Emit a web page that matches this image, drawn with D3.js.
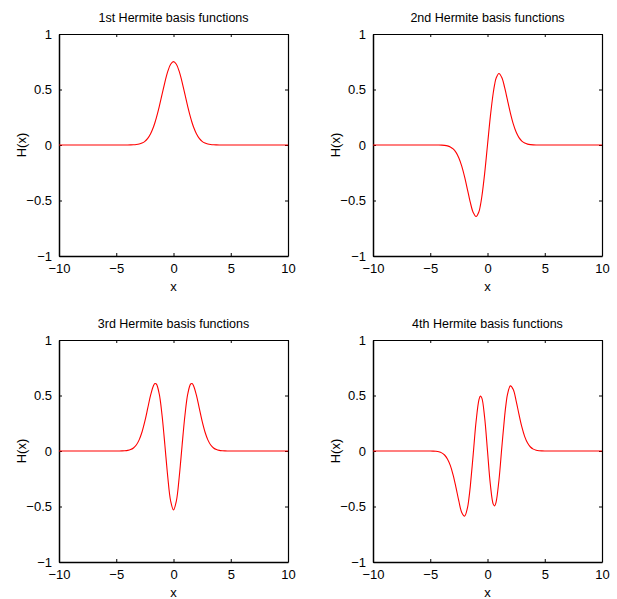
<!DOCTYPE html>
<html>
<head>
<meta charset="utf-8">
<script src="https://cdn.jsdelivr.net/npm/d3@7"></script>
<style>
  body { margin: 0; background: #fff; }
  svg text { font-family: "Liberation Sans", Arial, Helvetica, sans-serif; fill: #000; }
</style>
</head>
<body>
<div class="chart"></div>
<script>
// sample points along x (the curves are flat beyond |x| > 5)
var xs = [-10, -5, -4.75, -4.5, -4.25, -4, -3.75, -3.5, -3.25, -3, -2.75, -2.5, -2.25, -2, -1.75, -1.625, -1.5, -1.25, -1, -0.75, -0.625, -0.5, -0.25,
	0, 0.25, 0.5, 0.625, 0.75, 1, 1.25, 1.5, 1.625, 1.75, 2, 2.25, 2.5, 2.75, 3, 3.25, 3.5, 3.75, 4, 4.25, 4.5, 4.75, 5, 10];

var h1 = [0, 0.0000, 0.0000, 0.0000, 0.0001, 0.0003, 0.0007, 0.0016, 0.0038, 0.0083, 0.0171, 0.0330, 0.0598, 0.1017, 0.1624, 0.2006, 0.2439, 0.3439, 0.4556, 0.5670, 0.6179, 0.6629, 0.7280,
	0.7511, 0.7280, 0.6629, 0.6179, 0.5670, 0.4556, 0.3439, 0.2439, 0.2006, 0.1624, 0.1017, 0.0598, 0.0330, 0.0171, 0.0083, 0.0038, 0.0016, 0.0007, 0.0003, 0.0001, 0.0000, 0.0000, 0.0000, 0];

var h2 = [0, -0.0000, -0.0001, -0.0002, -0.0005, -0.0014, -0.0035, -0.0081, -0.0176, -0.0354, -0.0666, -0.1167, -0.1902, -0.2875, -0.4020, -0.4610, -0.5173, -0.6079, -0.6443, -0.6014, -0.5461, -0.4687, -0.2574,
	0, 0.2574, 0.4687, 0.5461, 0.6014, 0.6443, 0.6079, 0.5173, 0.4610, 0.4020, 0.2875, 0.1902, 0.1167, 0.0666, 0.0354, 0.0176, 0.0081, 0.0035, 0.0014, 0.0005, 0.0002, 0.0001, 0.0000, 0];

var h3 = [0, 0.0001, 0.0003, 0.0008, 0.0022, 0.0055, 0.0127, 0.0273, 0.0544, 0.1003, 0.1710, 0.2684, 0.3856, 0.5032, 0.5887, 0.6073, 0.6035, 0.5167, 0.3222, 0.0501, -0.0956, -0.2344, -0.4504,
	-0.5311, -0.4504, -0.2344, -0.0956, 0.0501, 0.3222, 0.5167, 0.6035, 0.6073, 0.5887, 0.5032, 0.3856, 0.2684, 0.1710, 0.1003, 0.0544, 0.0273, 0.0127, 0.0055, 0.0022, 0.0008, 0.0003, 0.0001, 0];

var h4 = [0, -0.0004, -0.0011, -0.0029, -0.0073, -0.0169, -0.0361, -0.0714, -0.1299, -0.2168, -0.3296, -0.4526, -0.5531, -0.5869, -0.5129, -0.4293, -0.3168, -0.0310, 0.2630, 0.4603, 0.4947, 0.4784, 0.3021,
	0, -0.3021, -0.4784, -0.4947, -0.4603, -0.2630, 0.0310, 0.3168, 0.4293, 0.5129, 0.5869, 0.5531, 0.4526, 0.3296, 0.2168, 0.1299, 0.0714, 0.0361, 0.0169, 0.0073, 0.0029, 0.0011, 0.0004, 0];

var titles = ['1st Hermite basis functions', '2nd Hermite basis functions', '3rd Hermite basis functions', '4th Hermite basis functions'];
var series = [h1, h2, h3, h4];
var xTicks = [-10, -5, 0, 5, 10];
var yTicks = [-1, -0.5, 0, 0.5, 1];

var W = 617, H = 599;
var pw = 229, ph = 222;
var lefts = [59, 373];
var tops = [34, 340];
var tickLen = 3;

var svg = d3.select('.chart').append('svg')
	.attr('width', W)
	.attr('height', H);

var fmt = function(d){ return (d < 0 ? '\u2212' : '') + Math.abs(d); };

/*---------------------------PANELS--------------------------*/

series.forEach(function(vals, k){
	var left = lefts[k % 2];
	var top = tops[Math.floor(k / 2)];

	var x = d3.scaleLinear().domain([-10, 10]).range([0, pw]);
	var y = d3.scaleLinear().domain([-1, 1]).range([ph, 0]);

	var g = svg.append('g')
		.attr('transform', 'translate(' + left + ',' + top + ')');

	// axes, ticks pointing inwards on all four sides
	var bottom = g.append('g').attr('transform', 'translate(0,' + ph + ')')
		.call(d3.axisBottom(x).tickValues(xTicks).tickSizeInner(-tickLen).tickSizeOuter(0).tickPadding(8).tickFormat(fmt));
	var topAx = g.append('g')
		.call(d3.axisTop(x).tickValues(xTicks).tickSizeInner(-tickLen).tickSizeOuter(0).tickFormat(''));
	var leftAx = g.append('g')
		.call(d3.axisLeft(y).tickValues(yTicks).tickSizeInner(-tickLen).tickSizeOuter(0).tickPadding(7).tickFormat(fmt));
	var rightAx = g.append('g').attr('transform', 'translate(' + pw + ',0)')
		.call(d3.axisRight(y).tickValues(yTicks).tickSizeInner(-tickLen).tickSizeOuter(0).tickFormat(''));

	[bottom, topAx, leftAx, rightAx].forEach(function(a, j){
		a.select('.domain').attr('stroke', '#000').attr('stroke-width', (j === 0 || j === 2) ? 1.5 : 1.2);
		a.selectAll('.tick line').attr('stroke', '#000').attr('stroke-width', 1);
		a.selectAll('.tick text')
			.style('font-family', '"Liberation Sans", Arial, sans-serif')
			.style('font-size', '13px')
			.attr('fill', '#000');
	});
	bottom.selectAll('.tick text').attr('dy', '0.71em');

	// curve
	var line = d3.line()
		.x(function(d, i){ return x(xs[i]); })
		.y(function(d){ return y(d); })
		.curve(d3.curveCatmullRom.alpha(0.5));

	g.append('path')
		.datum(vals)
		.attr('d', line)
		.attr('fill', 'none')
		.attr('stroke', '#ff0000')
		.attr('stroke-width', 1.1);

	// labels
	g.append('text')
		.attr('x', pw / 2)
		.attr('y', -12)
		.attr('text-anchor', 'middle')
		.style('font-size', '12.5px')
		.text(titles[k]);

	g.append('text')
		.attr('x', pw / 2)
		.attr('y', ph + 35)
		.attr('text-anchor', 'middle')
		.style('font-size', '13px')
		.text('x');

	g.append('text')
		.attr('transform', 'translate(-33,' + (ph / 2) + ') rotate(-90)')
		.attr('text-anchor', 'middle')
		.style('font-size', '13px')
		.text('H(x)');
});
</script>
</body>
</html>
